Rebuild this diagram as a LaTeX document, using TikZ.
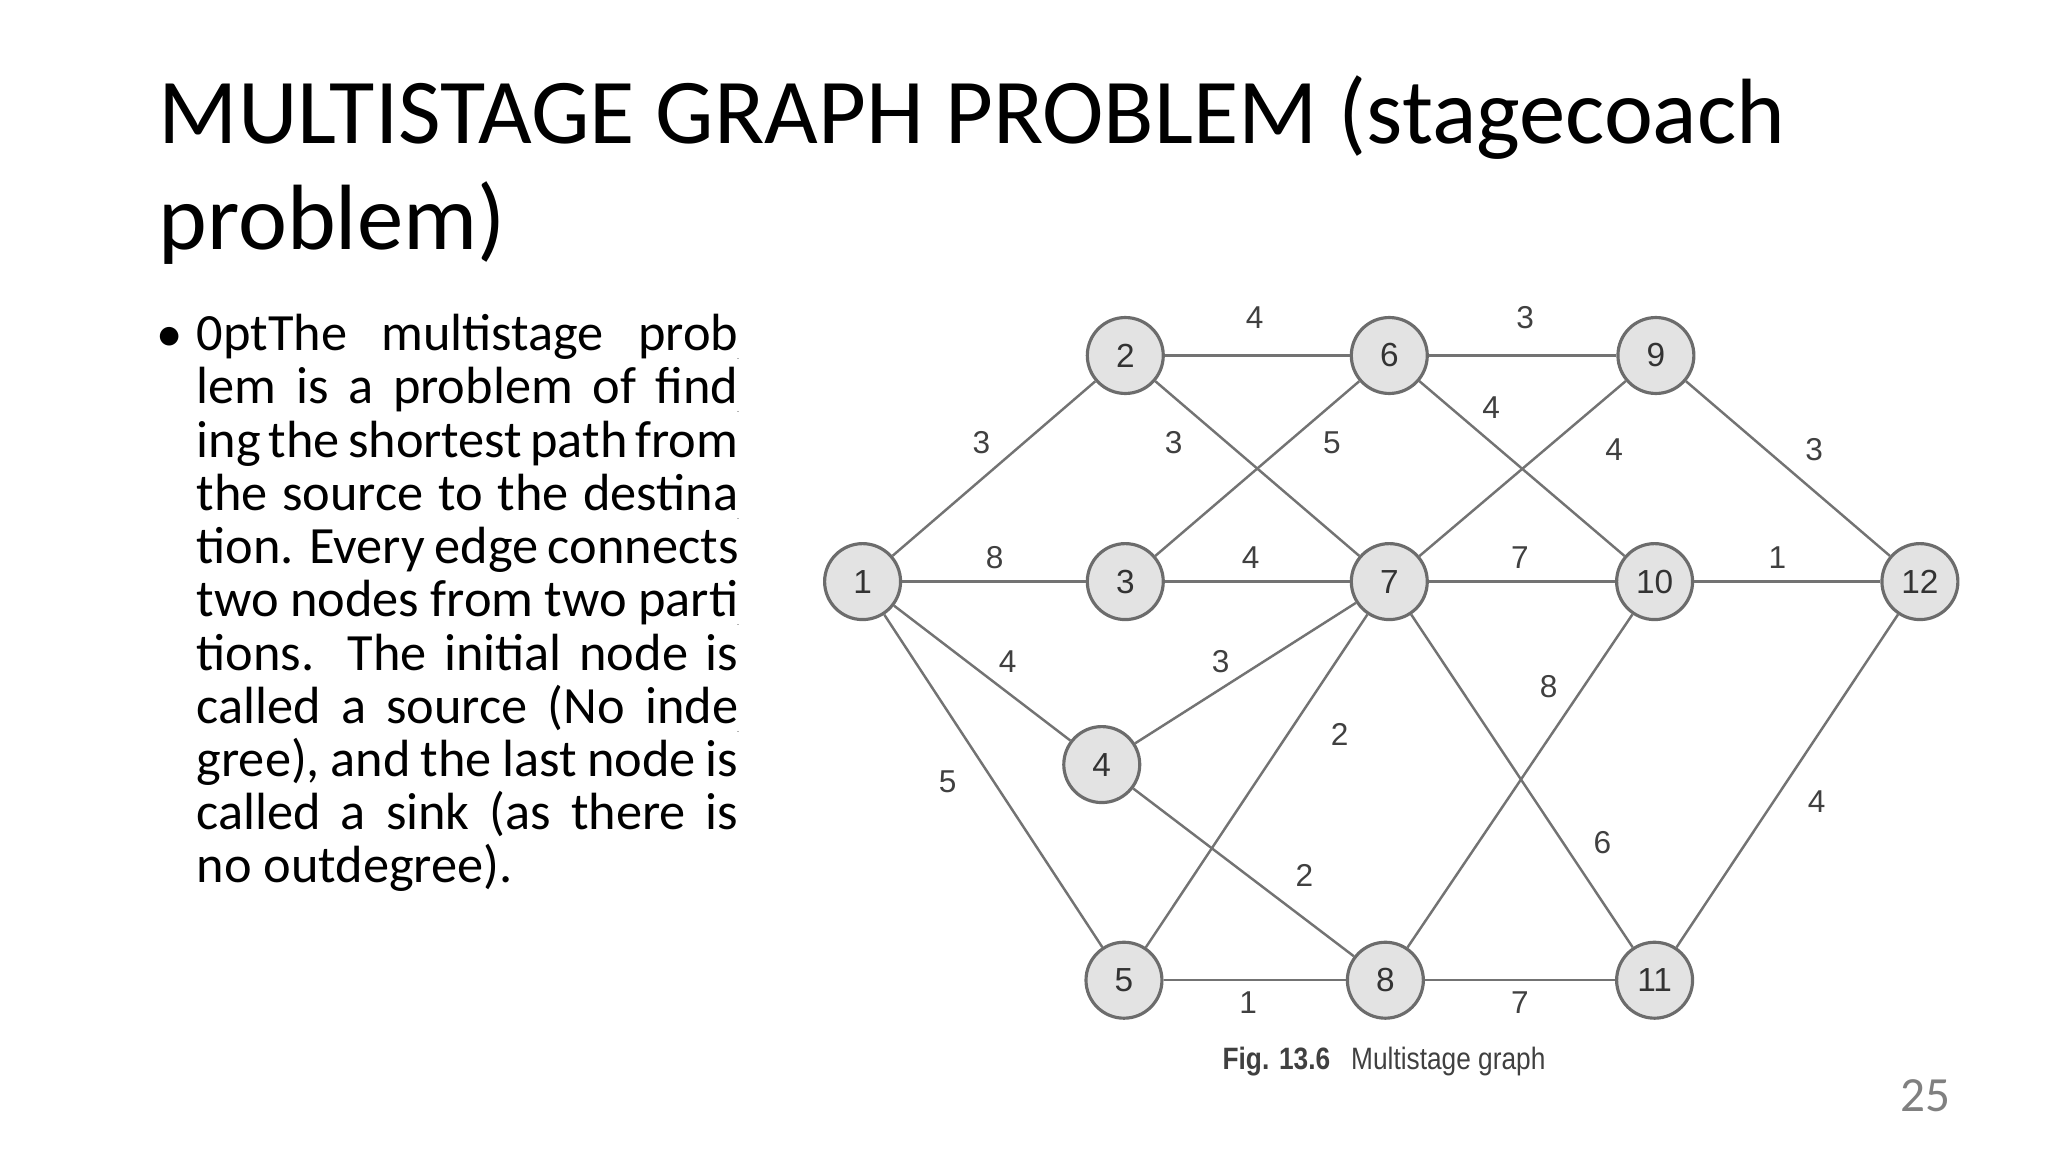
\documentclass[tikz,border=0pt]{standalone}
\usepackage{fontspec}
\setmainfont{Carlito}
\newfontfamily\lsans{Liberation Sans}
\begin{document}
\begin{tikzpicture}[x=0.013070cm,y=-0.013070cm,
  vx/.style={circle,draw=gray!85!black,fill=gray!22,line width=0.9pt,minimum size=0.76cm,inner sep=0pt,font=\lsans\fontsize{9.5}{12}\selectfont,text=black!80},
  ed/.style={draw=gray!90!black,line width=0.7pt},
  wl/.style={font=\lsans\fontsize{9}{11}\selectfont,text=black!75}]
\useasboundingbox (0,0) rectangle (1567,881.4);
\node[anchor=base west,inner sep=0pt,font=\fontsize{26.4}{33}\selectfont] (t1) at (121,110) {MULTISTAGE GRAPH PROBLEM (stagecoach};
\node[anchor=base west,inner sep=0pt,font=\fontsize{26.4}{33}\selectfont] (t2) at (121,191) {problem)};
\node[anchor=base west,inner sep=0pt,font=\fontsize{15}{15.1}\selectfont] (bul) at (119,269) {•};
\node[anchor=north west,inner sep=0pt,text width=5.42cm,align=justify,font=\fontsize{14.9}{15.15}\selectfont\hyphenchar\font=-1] (body) at (150,240) {The multistage problem is a problem of finding the shortest path from the source to the destination. Every edge connects two nodes from two partitions. The initial node is called a source (No indegree), and the last node is called a sink (as there is no outdegree).};
\node[vx] (n1) at (660,445) {1};
\node[vx] (n2) at (861,272) {2};
\node[vx] (n3) at (861,445) {3};
\node[vx] (n4) at (843,585) {4};
\node[vx] (n5) at (860,750) {5};
\node[vx] (n6) at (1063,272) {6};
\node[vx] (n7) at (1063,445) {7};
\node[vx] (n8) at (1060,750) {8};
\node[vx] (n9) at (1267,272) {9};
\node[vx] (n10) at (1266,445) {10};
\node[vx] (n11) at (1266,750) {11};
\node[vx] (n12) at (1469,445) {12};
\draw[ed] (n1)--(n2); \draw[ed] (n1)--(n3); \draw[ed] (n1)--(n4); \draw[ed] (n1)--(n5);
\draw[ed] (n2)--(n6); \draw[ed] (n2)--(n7); \draw[ed] (n3)--(n6); \draw[ed] (n3)--(n7);
\draw[ed] (n4)--(n7); \draw[ed] (n4)--(n8); \draw[ed] (n5)--(n7); \draw[ed] (n5)--(n8);
\draw[ed] (n6)--(n9); \draw[ed] (n6)--(n10); \draw[ed] (n7)--(n9); \draw[ed] (n7)--(n10);
\draw[ed] (n7)--(n11); \draw[ed] (n8)--(n10); \draw[ed] (n8)--(n11);
\draw[ed] (n9)--(n12); \draw[ed] (n10)--(n12); \draw[ed] (n11)--(n12);
\node[wl] (w12) at (751,339) {3}; \node[wl] (w13) at (761,427) {8};
\node[wl] (w14) at (771,506) {4}; \node[wl] (w15) at (725,598) {5};
\node[wl] (w26) at (960,243) {4}; \node[wl] (w27) at (898,339) {3};
\node[wl] (w36) at (1019,339) {5}; \node[wl] (w37) at (957,427) {4};
\node[wl] (w47) at (934,506) {3}; \node[wl] (w48) at (998,670) {2};
\node[wl] (w57) at (1025,562) {2}; \node[wl] (w58) at (955,767) {1};
\node[wl] (w69) at (1167,243) {3}; \node[wl] (w610) at (1141,312) {4};
\node[wl] (w79) at (1235,344) {4}; \node[wl] (w710) at (1163,427) {7};
\node[wl] (w711) at (1226,645) {6}; \node[wl] (w810) at (1185,525) {8};
\node[wl] (w811) at (1163,767) {7}; \node[wl] (w912) at (1388,344) {3};
\node[wl] (w1012) at (1360,427) {1}; \node[wl] (w1112) at (1390,613) {4};
\node[anchor=base west,inner sep=0pt,font=\lsans\fontsize{8.8}{10}\selectfont,text=black!75,xscale=0.85] (cap) at (935,818) {\textbf{Fig. 13.6}\hspace{0.8em}Multistage graph};
\node[font=\fontsize{14}{16}\selectfont,text=gray] (pg) at (1473,838) {25};
\end{tikzpicture}
\end{document}
